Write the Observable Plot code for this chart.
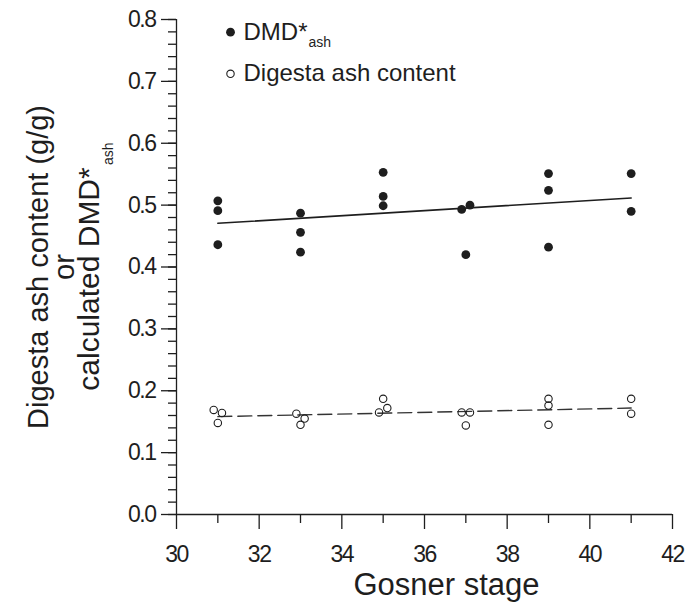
<!DOCTYPE html>
<html>
<head>
<meta charset="utf-8">
<script src="https://cdn.jsdelivr.net/npm/d3@7"></script>
<script src="https://cdn.jsdelivr.net/npm/@observablehq/plot@0.6"></script>
<style>
  html, body { margin: 0; padding: 0; background: #fff; }
  #chart { width: 688px; height: 603px; }
</style>
</head>
<body>
<div id="chart"></div>
<script>
// ---- data ----
const dmdStage = [31, 31, 31, 33, 33, 33, 35, 35, 35, 36.9, 37.1, 37, 39, 39, 39, 41, 41];
const dmdValue = [0.507, 0.491, 0.436, 0.487, 0.456, 0.424, 0.553, 0.514, 0.499, 0.493, 0.500, 0.420, 0.551, 0.524, 0.432, 0.551, 0.490];

const ashStage = [30.9, 31.1, 31, 32.9, 33.1, 33, 35, 35.1, 34.9, 36.9, 37.1, 37, 39, 39, 39, 41, 41];
const ashValue = [0.169, 0.164, 0.148, 0.163, 0.155, 0.145, 0.187, 0.172, 0.165, 0.165, 0.165, 0.144, 0.187, 0.176, 0.145, 0.187, 0.163];

const xMajorTicks = [30, 32, 34, 36, 38, 40, 42];
const xMinorTicks = [31, 33, 35, 37, 39, 41];
const yMajorTicks = [0, 0.1, 0.2, 0.3, 0.4, 0.5, 0.6, 0.7, 0.8];
const yMinorTicks = d3.range(0, 41).map(i => i / 50);

const legendLabels = ["DMD*", "Digesta ash content"];
const legendSub = "ash";
const xTitle = "Gosner stage";
const yTitleLines = ["Digesta ash content (g/g)", "or", "calculated DMD*"];

const dmd = dmdStage.map((s, i) => ({stage: s, value: dmdValue[i]}));
const ash = ashStage.map((s, i) => ({stage: s, value: ashValue[i]}));

const FONT = "'Liberation Sans', Arial, Helvetica, sans-serif";
const INK = "#1e1e1e";

const plot = Plot.plot({
  width: 688,
  height: 603,
  marginLeft: 176,
  marginRight: 16,
  marginTop: 19,
  marginBottom: 89,
  x: {domain: [30, 42]},
  y: {domain: [0, 0.8]},
  style: {fontFamily: FONT, background: "#fff", color: INK, overflow: "visible"},
  marks: [
    // minor ticks
    Plot.axisY({ticks: yMinorTicks, tickSize: 8, text: null, stroke: INK, strokeWidth: 1.3, strokeOpacity: 1, label: null}),
    Plot.axisX({ticks: xMinorTicks, tickSize: 9, text: null, stroke: INK, strokeWidth: 1.3, strokeOpacity: 1, label: null}),
    // major ticks + labels
    Plot.axisY({ticks: yMajorTicks, tickSize: 15, tickPadding: 6, tickFormat: d3.format(".1f"),
      fontSize: 23, stroke: INK, strokeWidth: 1.3, strokeOpacity: 1, fill: INK, label: null}),
    Plot.axisX({ticks: xMajorTicks, tickSize: 15, tickPadding: 16, tickFormat: d3.format("d"),
      fontSize: 23, stroke: INK, strokeWidth: 1.3, strokeOpacity: 1, fill: INK, label: null}),
    // axis lines
    Plot.ruleX([30], {y1: 0, y2: 0.8, stroke: INK, strokeWidth: 1.3}),
    Plot.ruleY([0], {x1: 30, x2: 42, stroke: INK, strokeWidth: 1.3}),
    // regression lines
    Plot.linearRegressionY(dmd, {x: d => Math.round(d.stage), y: "value", ci: 0, stroke: INK, strokeWidth: 1.6}),
    Plot.linearRegressionY(ash, {x: d => Math.round(d.stage), y: "value", ci: 0, stroke: "#333", strokeWidth: 1.4, strokeDasharray: "14,6"}),
    // data
    Plot.dot(ash, {x: "stage", y: "value", r: 3.7, fill: "none", stroke: INK, strokeWidth: 1.1}),
    Plot.dot(dmd, {x: "stage", y: "value", r: 4.4, fill: INK, stroke: "none"}),
    // legend (anchored at top-left corner of frame)
    Plot.dot([legendLabels[0]], {x: 30, y: 0.8, dx: 54, dy: 12.7, r: 4.4, fill: INK}),
    Plot.dot([legendLabels[1]], {x: 30, y: 0.8, dx: 54, dy: 54.3, r: 3.7, fill: "none", stroke: INK, strokeWidth: 1.1}),
    Plot.text([legendLabels[0]], {x: 30, y: 0.8, text: d => d, dx: 67, dy: 13.3, textAnchor: "start", fontSize: 24, fill: INK}),
    Plot.text([legendSub], {x: 30, y: 0.8, text: d => d, dx: 132, dy: 23.5, textAnchor: "start", fontSize: 14, fill: INK}),
    Plot.text([legendLabels[1]], {x: 30, y: 0.8, text: d => d, dx: 67, dy: 54.3, textAnchor: "start", fontSize: 24, fill: INK}),
    // x title
    Plot.text([xTitle], {frameAnchor: "bottom", text: d => d, dx: 22, dy: 70.4, textAnchor: "middle", lineAnchor: "middle", fontSize: 31, fill: INK}),
    // y title (three rotated lines)
    Plot.text([yTitleLines[0]], {frameAnchor: "left", text: d => d, rotate: -90, dx: -137.3, textAnchor: "middle", lineAnchor: "middle", fontSize: 29, fill: INK}),
    Plot.text([yTitleLines[1]], {frameAnchor: "left", text: d => d, rotate: -90, dx: -111.5, textAnchor: "middle", lineAnchor: "middle", fontSize: 29, fill: INK}),
    Plot.text([yTitleLines[2]], {frameAnchor: "left", text: d => d, rotate: -90, dx: -87.3, dy: 12, textAnchor: "middle", lineAnchor: "middle", fontSize: 30, fill: INK}),
    Plot.text([legendSub], {frameAnchor: "left", text: d => d, rotate: -90, dx: -67.5, dy: -102, textAnchor: "start", lineAnchor: "middle", fontSize: 14, fill: INK})
  ]
});

// condensed tick digits as in the reference
d3.select(plot).selectAll('g[aria-label="y-axis tick label"] text, g[aria-label="x-axis tick label"] text')
  .style("letter-spacing", "-1.5px");

document.getElementById("chart").appendChild(plot);
</script>
</body>
</html>
